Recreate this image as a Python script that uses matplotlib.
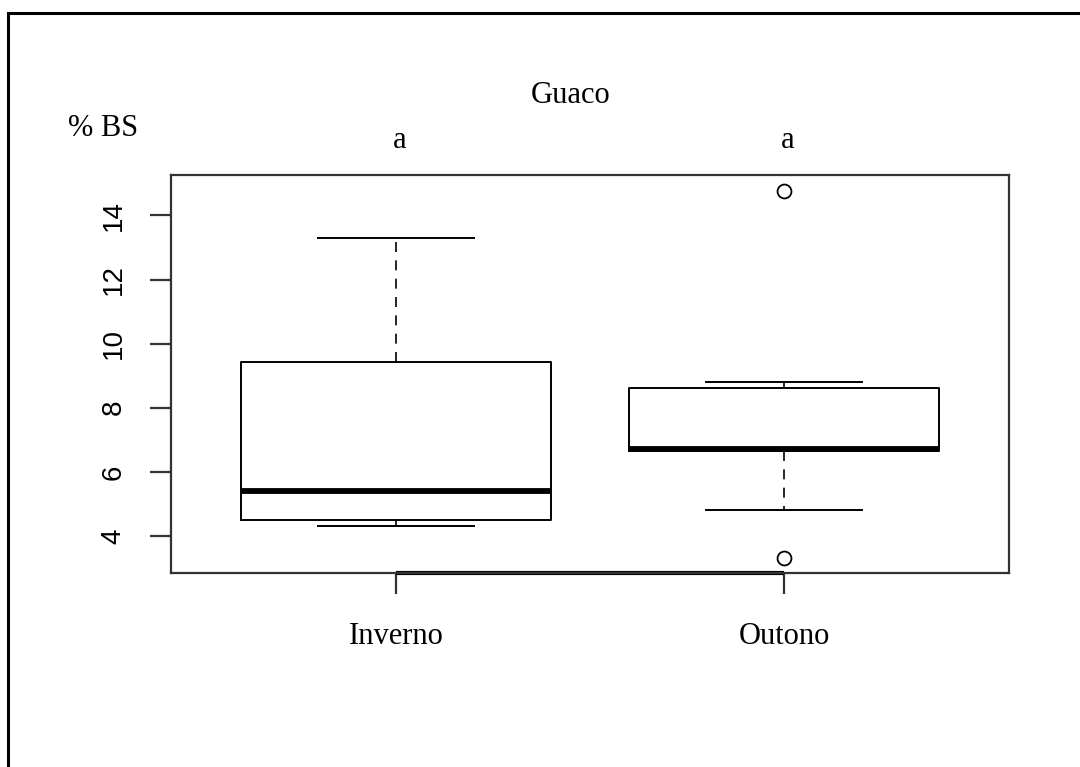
import matplotlib
matplotlib.use("Agg")
import matplotlib.pyplot as plt
from matplotlib.lines import Line2D

# Guaco - % BS by season
categories = ['Inverno', 'Outono']
q1 = [4.50, 6.66]
med = [5.40, 6.71]
q3 = [9.43, 8.62]
whislo = [4.31, 4.82]
whishi = [13.30, 8.80]
fliers = [[], [14.77, 3.31]]
letters = ['a', 'a']

yticks = [4, 6, 8, 10, 12, 14]

serif = 'Liberation Serif'
sans = 'Liberation Sans'

W, H = 1080, 767
fig = plt.figure(figsize=(W / 100, H / 100), dpi=100)
fig.patch.set_facecolor('white')

# axes box placed like the R plot region
ax = fig.add_axes([171 / W, 1 - 573 / H, (1009 - 171) / W, (573 - 175) / H])

stats = []
for i in range(len(categories)):
    stats.append(dict(label=categories[i], q1=q1[i], med=med[i], q3=q3[i],
                      whislo=whislo[i], whishi=whishi[i], fliers=fliers[i]))

ax.bxp(stats, positions=[1, 2], widths=0.8, patch_artist=False,
       boxprops=dict(color='black', linewidth=1.4),
       medianprops=dict(color='black', linewidth=4.2, solid_capstyle='butt'),
       whiskerprops=dict(color='black', linewidth=1.2, linestyle=(0, (6, 5))),
       capprops=dict(color='black', linewidth=1.4),
       capwidths=0.4,
       flierprops=dict(marker='o', markerfacecolor='none', markeredgecolor='black',
                       markersize=10, markeredgewidth=1.3))

ax.set_xlim(0.42, 2.58)
ax.set_ylim(2.845, 15.26)

for s in ax.spines.values():
    s.set_color('#333333')
    s.set_linewidth(1.6)

# R style axis line between the two groups
ax.hlines(ax.get_ylim()[0], 1, 2, colors='black', linewidth=3, clip_on=False)

ax.set_yticks(yticks)
ax.set_yticklabels([str(t) for t in yticks], rotation=90, va='center',
                   fontfamily=sans, fontsize=20)
ax.tick_params(axis='y', length=15, width=1.6, color='#333333', pad=17)

ax.set_xticks([1, 2])
ax.set_xticklabels(categories, fontfamily=serif, fontsize=22)
ax.tick_params(axis='x', length=15, width=1.6, color='#333333', pad=20)

# significance letters above each group
for i, lt in enumerate(letters):
    ax.text(i + 1.01, 1.068, lt, transform=ax.get_xaxis_transform(), ha='center',
            va='baseline', fontfamily=serif, fontsize=22)

fig.text(571 / W, 1 - 103 / H, 'Guaco', ha='center', va='baseline',
         fontfamily=serif, fontsize=22)
fig.text(68 / W, 1 - 136 / H, '% BS', ha='left', va='baseline',
         fontfamily=serif, fontsize=22)

# outer frame (top and left edges visible)
fig.add_artist(Line2D([8 / W, 1], [1 - 13 / H, 1 - 13 / H], color='black', linewidth=2.2))
fig.add_artist(Line2D([8 / W, 8 / W], [0, 1 - 13 / H], color='black', linewidth=2.2))

fig.savefig('out.png', dpi=100)
